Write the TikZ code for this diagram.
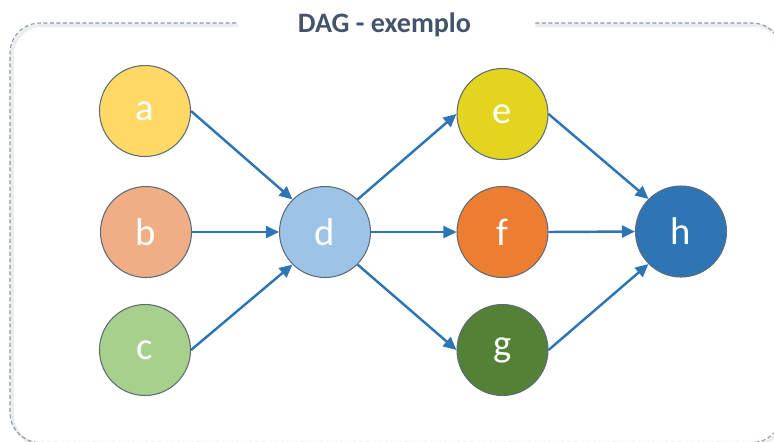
\documentclass[tikz,border=0pt]{standalone}
\usepackage{fontspec}
\setmainfont{Carlito}
\usetikzlibrary{arrows.meta}

\definecolor{framecol}{HTML}{8497B0}
\definecolor{titlecol}{HTML}{44546A}
\definecolor{edgecol}{HTML}{2E75B6}
\definecolor{rimcol}{HTML}{5F6B78}
\definecolor{acol}{HTML}{FFD966}
\definecolor{bcol}{HTML}{F0AE84}
\definecolor{ccol}{HTML}{A7D08C}
\definecolor{dcol}{HTML}{9DC3E6}
\definecolor{ecol}{HTML}{E3D51F}
\definecolor{fcol}{HTML}{ED7D31}
\definecolor{gcol}{HTML}{538135}
\definecolor{hcol}{HTML}{2E75B6}

\begin{document}
\begin{tikzpicture}[
    vertex/.style={circle, draw=rimcol, line width=0.6pt, minimum size=1.82cm,
        inner sep=0pt, text=white, font=\fontsize{22}{26}\selectfont},
    edge/.style={-{Triangle[length=2.6mm,width=2.4mm]}, edgecol, line width=1.4pt}
  ]
            \useasboundingbox (0,0) rectangle (15.48,-8.82);
            
            % frame with a gap for the title
            \draw[black!7, line width=2pt, rounded corners=0.6cm, shift={(0.04,-0.04)}]
                (4.72,-0.46) -- (0.2,-0.46) -- (0.2,-8.85) -- (15.64,-8.85) -- (15.64,-0.46) -- (10.66,-0.46);
            \draw[framecol, line width=0.6pt, dash pattern=on 0.08cm off 0.05cm, rounded corners=0.6cm]
                (4.72,-0.46) -- (0.2,-0.46) -- (0.2,-8.85) -- (15.64,-8.85) -- (15.64,-0.46) -- (10.66,-0.46);
            
            \node[anchor=base, text=titlecol, font=\fontsize{16}{19}\selectfont\bfseries] (title) at (7.69,-0.64) {DAG - exemplo};
            
            \node[vertex, fill=acol] (a) at (2.90,-2.22) {a};
            \node[vertex, fill=bcol] (b) at (2.92,-4.64) {b};
            \node[vertex, fill=ccol] (c) at (2.90,-7.00) {c};
            \node[vertex, fill=dcol] (d) at (6.50,-4.64) {d};
            \node[vertex, fill=ecol] (e) at (10.05,-2.28) {e};
            \node[vertex, fill=fcol] (f) at (10.05,-4.64) {f};
            \node[vertex, fill=gcol] (g) at (10.05,-7.00) {g};
            \node[vertex, fill=hcol] (h) at (13.62,-4.63) {h};
            
            % connectors snap to the circles' connection points
            \draw[edge] (a.east) -- (d.north west);
            \draw[edge] (b.east) -- (d.west);
            \draw[edge] (c.east) -- (d.south west);
            \draw[edge] (d.north east) -- (e.west);
            \draw[edge] (d.east) -- (f.west);
            \draw[edge] (d.south east) -- (g.west);
            \draw[edge] (e.east) -- (h.north west);
            \draw[edge] (f.east) -- (h.west);
            \draw[edge] (g.east) -- (h.south west);
        \end{tikzpicture}
\end{document}
